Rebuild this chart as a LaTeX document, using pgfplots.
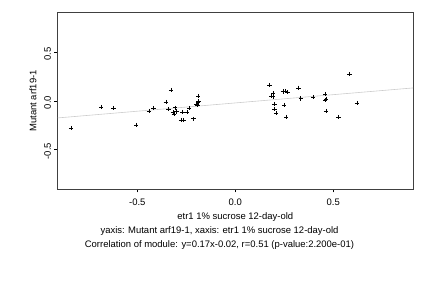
\documentclass[border=0pt]{standalone}
\usepackage{fontspec}
\setmainfont{Liberation Sans}
\usepackage{pgfplots}
\pgfplotsset{compat=1.18}
\begin{document}
\fontsize{9.5}{11}\selectfont
\begin{tikzpicture}[x=1bp,y=1bp]
\path[use as bounding box] (0,0) rectangle (432,288);
\begin{axis}[
  at={(57.7bp,99bp)}, anchor=south west,
  scale only axis, width=355.3bp, height=176.3bp,
  xmin=-0.906, xmax=0.907, ymin=-0.904, ymax=0.907,
  axis line style={draw=black!75, line width=0.6pt},
  xtick={-0.5,0,0.5}, ytick={-0.5,0,0.5},
  xticklabels={-0.5,0.0,0.5}, yticklabels={-0.5,0.0,0.5},
  tick align=outside, tick pos=left,
  major tick length=3.5bp,
  tick style={draw=black, line width=0.5pt},
  /pgf/number format/assume math mode=true,
  ticklabel style={font=\fontsize{9.5}{11}\selectfont},
  xticklabel style={yshift=-3.5bp},
  yticklabel style={rotate=90, anchor=south, xshift=-1.5bp},
  clip=true,
]
\addplot[draw=black!20, line width=0.6pt] coordinates {(-0.906,-0.17402) (0.907,0.13419)};
\addplot[only marks, mark=+, mark size=2.2bp, mark options={line width=0.6pt, draw=black}] coordinates {
(-0.838,-0.277) (-0.684,-0.062) (-0.622,-0.072) (-0.505,-0.247) (-0.440,-0.103)
(-0.417,-0.072) (-0.354,-0.010) (-0.341,-0.082) (-0.328,0.113) (-0.318,-0.116)
(-0.313,-0.134) (-0.306,-0.069) (-0.299,-0.106) (-0.277,-0.195) (-0.265,-0.195)
(-0.270,-0.113) (-0.245,-0.113) (-0.235,-0.072) (-0.214,-0.182) (-0.197,-0.031)
(-0.192,-0.044) (-0.189,0.051) (-0.187,0.0) (-0.190,-0.017)
(0.174,0.164) (0.184,0.051) (0.194,0.075) (0.194,0.044) (0.201,-0.031)
(0.201,-0.082) (0.209,-0.123) (0.243,0.099) (0.255,0.103) (0.267,0.092)
(0.250,-0.041) (0.260,-0.164) (0.322,0.134) (0.334,0.024) (0.398,0.041)
(0.459,0.069) (0.464,0.021) (0.459,0.010) (0.464,-0.103) (0.526,-0.164)
(0.582,0.277) (0.622,-0.021)
};
\end{axis}
\node at (33,187) [rotate=90] {Mutant arf19-1};
\node at (235.3,71) {etr1 1\% sucrose 12-day-old};
\node at (219.5,57) {yaxis: Mutant arf19-1, xaxis: etr1 1\% sucrose 12-day-old};
\node at (219.5,43) {Correlation of module: y=0.17x-0.02, r=0.51 (p-value:2.200e-01)};
\end{tikzpicture}
\end{document}
